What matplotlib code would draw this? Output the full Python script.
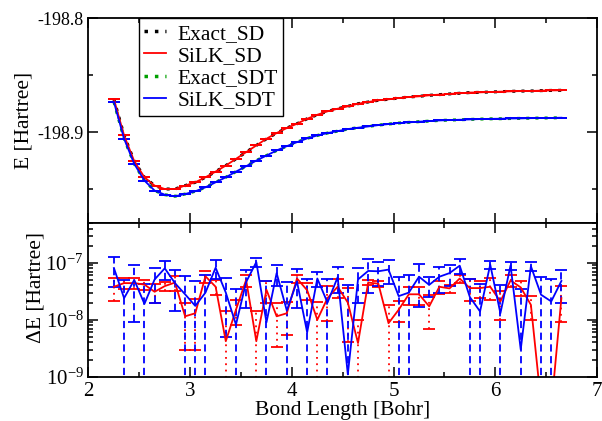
import numpy as np
import matplotlib
matplotlib.use('Agg')
import matplotlib.pyplot as plt
from matplotlib.lines import Line2D
from matplotlib.ticker import MultipleLocator, FormatStrFormatter, FixedLocator

plt.rcParams['font.family'] = ['Liberation Serif', 'DejaVu Serif']
plt.rcParams['mathtext.fontset'] = 'stix'
plt.rcParams['axes.unicode_minus'] = False
plt.rcParams['font.size'] = 15

# bond lengths (Bohr)
bond = [2.25, 2.35, 2.45, 2.55, 2.65, 2.75, 2.85, 2.95, 3.05, 3.15,
        3.25, 3.35, 3.45, 3.55, 3.65, 3.75, 3.85, 3.95, 4.05, 4.15,
        4.25, 4.35, 4.45, 4.55, 4.65, 4.75, 4.85, 4.95, 5.05, 5.15,
        5.25, 5.35, 5.45, 5.55, 5.65, 5.75, 5.85, 5.95, 6.05, 6.15,
        6.25, 6.35, 6.45, 6.55, 6.65]

# total energies (Hartree)
E_silk_sd = [-198.8712, -198.9030, -198.9257, -198.9398, -198.9471, -198.9501, -198.9501, -198.9471, -198.9442, -198.9398,
             -198.9348, -198.9295, -198.9236, -198.9177, -198.9118, -198.9059, -198.9009, -198.8965, -198.8927, -198.8883,
             -198.8848, -198.8818, -198.8795, -198.8774, -198.8751, -198.8736, -198.8721, -198.8712, -198.8701, -198.8692,
             -198.8686, -198.8677, -198.8671, -198.8665, -198.8659, -198.8653, -198.8651, -198.8648, -198.8645, -198.8642,
             -198.8640, -198.8639, -198.8636, -198.8634, -198.8633]
E_silk_sdt = [-198.8736, -198.9059, -198.9280, -198.9427, -198.9515, -198.9551, -198.9565, -198.9545, -198.9521, -198.9486,
              -198.9442, -198.9398, -198.9348, -198.9301, -198.9251, -198.9207, -198.9162, -198.9124, -198.9089, -198.9056,
              -198.9030, -198.9009, -198.8992, -198.8974, -198.8962, -198.8951, -198.8939, -198.8930, -198.8921, -198.8915,
              -198.8909, -198.8904, -198.8898, -198.8895, -198.8892, -198.8889, -198.8886, -198.8884, -198.8883, -198.8881,
              -198.8880, -198.8878, -198.8877, -198.8876, -198.8874]
# exact curves coincide with SiLK at this scale
E_exact_sd = list(E_silk_sd)
E_exact_sdt = list(E_silk_sdt)

# |SiLK - exact| and stochastic error (Hartree)
dE_sd = [3.8e-8, 4.4e-8, 4.4e-8, 4.15e-8, 3.1e-8, 3.9e-8, 4.5e-8, 1.15e-8, 1.3e-8, 5.8e-8,
         3.8e-8, 4.2e-9, 1.5e-8, 5.0e-8, 4.2e-9, 3.35e-8, 1.15e-8, 1.3e-8, 5.3e-8, 3.3e-8,
         1.0e-8, 2.4e-8, 3.8e-8, 2.0e-8, 3.9e-9, 4.5e-8, 4.3e-8, 8.7e-9, 1.5e-8, 2.8e-8,
         2.8e-8, 1.72e-8, 3.8e-8, 3.55e-8, 5.3e-8, 3.6e-8, 3.6e-8, 3.8e-8, 2.1e-8, 4.9e-8,
         3.7e-8, 1.83e-8, 3.4e-10, 2.8e-10, 2.4e-8]
err_sd = [1.65e-8, 1.0e-8, 1.0e-8, 0.8e-8, 1.1e-8, 0.65e-8, 1.35e-8, 0.85e-8, 1.0e-8, 1.3e-8,
          1.1e-8, 9.8e-9, 0.7e-8, 1.2e-8, 1.02e-8, 1.4e-8, 0.82e-8, 0.77e-8, 0.8e-8, 1.1e-8,
          1.05e-8, 1.45e-8, 1.4e-8, 1.6e-8, 6.2e-9, 0.5e-8, 0.55e-8, 9.8e-9, 0.6e-8, 1.0e-8,
          1.0e-8, 1.03e-8, 0.93e-8, 0.6e-8, 0.9e-8, 1.5e-8, 1.2e-8, 1.6e-8, 1.1e-8, 1.1e-8,
          1.05e-8, 0.83e-8, 2e-10, 2e-10, 1.5e-8]
dE_sdt = [8.1e-8, 2.4e-8, 5.0e-8, 1.9e-8, 5.1e-8, 8.0e-8, 4.4e-8, 2.8e-8, 1.75e-8, 3.0e-8,
          8.2e-8, 3.0e-8, 8.2e-9, 4.6e-8, 1.03e-7, 9.0e-9, 6.6e-8, 1.45e-8, 4.7e-8, 6.0e-9,
          5.3e-8, 2.0e-8, 5.6e-8, 1.1e-9, 5.1e-8, 7.2e-8, 7.1e-8, 7.6e-8, 2.6e-8, 3.0e-8,
          5.7e-8, 4.1e-8, 5.7e-8, 6.6e-8, 8.9e-8, 2.5e-8, 1.4e-8, 9.3e-8, 1.3e-8, 9.0e-8,
          3.0e-9, 8.7e-8, 2.75e-8, 2.1e-8, 4.8e-8]
err_sdt = [4.4e-8, 2.5e-8, 4.1e-8, 2.3e-8, 3.1e-8, 2.95e-8, 3.0e-8, 3.0e-8, 3.0e-8, 3.05e-8,
           3.0e-8, 2.5e-8, 2.6e-8, 3.0e-8, 1.8e-8, 3.9e-8, 2.7e-8, 3.2e-8, 3.1e-8, 4.5e-8,
           1.5e-8, 3.1e-8, 2.7e-8, 4.0e-8, 3.1e-8, 4.3e-8, 3.2e-8, 3.4e-8, 3.0e-8, 3.1e-8,
           4.0e-8, 1.55e-8, 2.7e-8, 2.7e-8, 2.6e-8, 2.6e-8, 2.9e-8, 1.5e-8, 2.85e-8, 1.5e-8,
           3.1e-8, 1.5e-8, 2.9e-8, 3.1e-8, 2.8e-8]

green = '#00a000'
dots = (0, (1, 2))

fig = plt.figure(figsize=(6.02, 4.21), dpi=100)
ax1 = fig.add_axes([0.147, 0.4703, 0.8447, 0.4862])
ax2 = fig.add_axes([0.147, 0.1052, 0.8447, 0.3651], sharex=ax1)

# top panel: energies
ax1.plot(bond, E_exact_sd, color='black', ls=dots, lw=2.2)
ax1.errorbar(bond, E_silk_sd, yerr=err_sd, color='red', lw=1.3,
             elinewidth=1.3, capsize=4, capthick=1.3)
ax1.plot(bond, E_exact_sdt, color=green, ls=dots, lw=2.2)
ax1.errorbar(bond, E_silk_sdt, yerr=err_sdt, color='blue', lw=1.3,
             elinewidth=1.3, capsize=4, capthick=1.3)
ax1.set_ylim(-198.98, -198.8)
ax1.yaxis.set_major_locator(MultipleLocator(0.1))
ax1.yaxis.set_minor_locator(MultipleLocator(0.05))
ax1.yaxis.set_major_formatter(FormatStrFormatter('%.1f'))
ax1.set_ylabel('E [Hartree]', fontsize=15.5)
ax1.tick_params(labelbottom=False)
ax1.tick_params(axis='y', labelsize=13)

handles = [Line2D([], [], color='black', ls=dots, lw=2.5),
           Line2D([], [], color='red', lw=1.3),
           Line2D([], [], color=green, ls=dots, lw=2.5),
           Line2D([], [], color='blue', lw=1.3)]
labels = ['Exact_SD', 'SiLK_SD', 'Exact_SDT', 'SiLK_SDT']
leg = ax1.legend(handles, labels, loc='upper left', bbox_to_anchor=(0.099, 1.0),
                 borderaxespad=0, fancybox=False, framealpha=1, edgecolor='black',
                 handlelength=1.0, handletextpad=0.55, labelspacing=0.1,
                 borderpad=0.25, fontsize=15.5)
leg.get_frame().set_linewidth(1.0)

# bottom panel: errors
eb1 = ax2.errorbar(bond, dE_sd, yerr=err_sd, color='red', lw=1.3,
                   elinewidth=1.3, capsize=4, capthick=1.3)
eb1[2][0].set_linestyle((0, (1, 2.5)))
eb2 = ax2.errorbar(bond, dE_sdt, yerr=err_sdt, color='blue', lw=1.3,
                   elinewidth=1.3, capsize=4, capthick=1.3)
eb2[2][0].set_linestyle((0, (4, 2.5)))
ax2.set_yscale('log')
ax2.set_ylim(1e-9, 5e-7)
ax2.yaxis.set_major_locator(FixedLocator([1e-9, 1e-8, 1e-7]))
ax2.set_xlim(2, 7)
ax2.xaxis.set_major_locator(MultipleLocator(1))
ax2.xaxis.set_minor_locator(MultipleLocator(0.5))
ax2.set_ylabel('ΔE [Hartree]', fontsize=15.5)
ax2.set_xlabel('Bond Length [Bohr]', fontsize=15.5, labelpad=0)
ax2.tick_params(axis='both', labelsize=15)

for ax in (ax1, ax2):
    ax.tick_params(which='both', direction='in', top=True, right=True, width=1.1)
    ax.tick_params(which='major', length=7)
    ax.tick_params(which='minor', length=3.5)
    for sp in ax.spines.values():
        sp.set_linewidth(1.3)
ax1.yaxis.set_label_coords(-0.109, 0.5)
ax2.yaxis.set_label_coords(-0.0855, 0.58)

fig.savefig('out.png', dpi=100)
